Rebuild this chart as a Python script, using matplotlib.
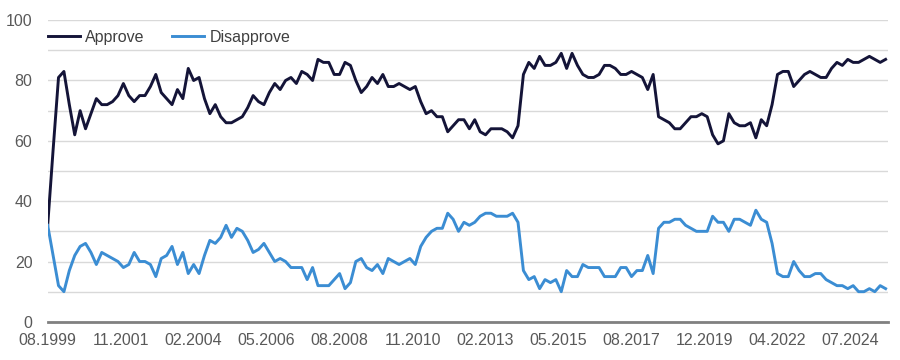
import numpy as np
import matplotlib
matplotlib.use("Agg")
import matplotlib.pyplot as plt

plt.rcParams['font.family'] = ['Liberation Sans', 'DejaVu Sans']

# values sampled every 2 periods, starting 08.1999
approve = [
    32, 57, 81, 83, 72, 62, 70, 64, 69, 74,
    72, 72, 73, 75, 79, 75, 73, 75, 75, 78,
    82, 76, 74, 72, 77, 74, 84, 80, 81, 74,
    69, 72, 68, 66, 66, 67, 68, 71, 75, 73,
    72, 76, 79, 77, 80, 81, 79,
    83, 82, 80, 87, 86, 86, 82, 82, 86, 85,
    80, 76, 78, 81, 79, 82, 78, 78, 79, 78,
    77, 78, 73, 69, 70, 68, 68, 63, 65, 67,
    67, 64, 67, 63, 62, 64, 64, 64, 63, 61,
    65, 82, 86, 84, 88, 85, 85, 86, 89, 84,
    89, 85, 82, 81, 81, 82,
    85, 85, 84, 82, 82, 83, 82, 81, 77, 82,
    68, 67, 66, 64, 64, 66, 68, 68, 69, 68,
    62, 59, 60, 69, 66, 65, 65, 66, 61, 67,
    65, 72, 82, 83, 83, 78, 80, 82, 83, 82,
    81, 81, 84, 86, 85, 87, 86, 86, 87, 88,
    87, 86, 87,
]
disapprove = [
    32, 22, 12, 10, 17, 22, 25, 26, 23, 19,
    23, 22, 21, 20, 18, 19, 23, 20, 20, 19,
    15, 21, 22, 25, 19, 23, 16, 19, 16, 22,
    27, 26, 28, 32, 28, 31, 30, 27, 23, 24,
    26, 23, 20, 21, 20, 18, 18,
    18, 14, 18, 12, 12, 12, 14, 16, 11, 13,
    20, 21, 18, 17, 19, 16, 21, 20, 19, 20,
    21, 19, 25, 28, 30, 31, 31, 36, 34, 30,
    33, 32, 33, 35, 36, 36, 35, 35, 35, 36,
    33, 17, 14, 15, 11, 14, 13, 14, 10, 17,
    15, 15, 19, 18, 18, 18,
    15, 15, 15, 18, 18, 15, 17, 17, 22, 16,
    31, 33, 33, 34, 34, 32, 31, 30, 30, 30,
    35, 33, 33, 30, 34, 34, 33, 32, 37, 34,
    33, 26, 16, 15, 15, 20, 17, 15, 15, 16,
    16, 14, 13, 12, 12, 11, 12, 10, 10, 11,
    10, 12, 11,
]
tick_labels = ['08.1999', '11.2001', '02.2004', '05.2006', '08.2008', '11.2010',
               '02.2013', '05.2015', '08.2017', '12.2019', '04.2022', '07.2024']
label_step = 27  # periods between labels
sample_step = 2

x = np.arange(len(approve)) * sample_step

fig = plt.figure(figsize=(9, 3.6), dpi=100)
ax = fig.add_axes([0.053, 0.106, 0.934, 0.838])

ax.plot(x, approve, color='#141438', lw=2.1, label='Approve', zorder=3)
ax.plot(x, disapprove, color='#3b8dd3', lw=2.1, label='Disapprove', zorder=3)

ax.set_xlim(0, 311)
ax.set_ylim(0, 100)
ax.set_xticks(np.arange(len(tick_labels)) * label_step)
ax.set_xticklabels(tick_labels)
ax.set_yticks(np.arange(0, 101, 20))
ax.set_yticks(np.arange(0, 101, 10), minor=True)
ax.grid(True, axis='y', which='both', color='#d9d9d9', lw=1)
ax.set_axisbelow(True)

for s in ['top', 'right', 'left']:
    ax.spines[s].set_visible(False)
ax.spines['bottom'].set_color('#808080')
ax.spines['bottom'].set_linewidth(2)

ax.tick_params(axis='both', which='both', length=0, labelsize=11.5, labelcolor='#595959')
ax.tick_params(axis='x', pad=8)
ax.tick_params(axis='y', pad=11)

ax.legend(loc='center left', bbox_to_anchor=(0.0, 0.944), ncol=2, frameon=False,
          fontsize=11.5, handlelength=2.0, columnspacing=1.7, handletextpad=0.35,
          borderaxespad=0, borderpad=0, labelcolor='#404040')

fig.savefig('out.png', dpi=100)
